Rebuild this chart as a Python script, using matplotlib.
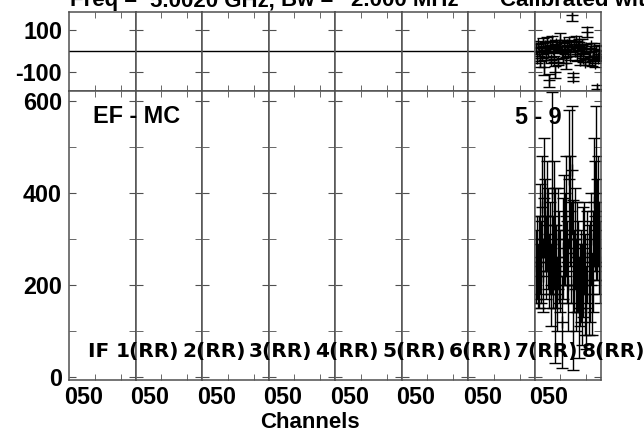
import matplotlib
matplotlib.use('Agg')
import matplotlib.pyplot as plt
import numpy as np

plt.rcParams['font.family'] = ['Liberation Sans', 'DejaVu Sans']
plt.rcParams['font.weight'] = 'bold'
plt.rcParams['axes.unicode_minus'] = False

# IF labels and channel tick labels
if_labels = ['1(RR)', '2(RR)', '3(RR)', '4(RR)', '5(RR)', '6(RR)', '7(RR)', '8(RR)']
chan_tick_label = ['050']
amp_ticks = [0, 200, 400, 600]
phase_ticks = [-100, 100]
title_parts = ['Freq =', '5.0020 GHz,', 'Bw =', '2.000 MHz', 'Calibrated with CL #  2']

# only IF 8 has data
channels = np.arange(1, 64)
phase = [15, -30, 35, 0, -45, 20, -15, 40, -75, 25, -25, 45, -5, -138, 30, -40, 50, 10, -35, -98,
         35, 20, -50, 25, 55, -10, -30, 40, 5, -55, 30, -5, 45, -20, 25, 171, -122, 35, 0, 50,
         -15, 25, 45, -40, 0, 30, -30, 10, -50, 15, 92, -35, -5, 25, -45, -20, 10, -55, 0, -178,
         -30, 5, -20]
phase_err = [20, 25, 15, 20, 30, 20, 15, 25, 35, 20, 15, 25, 20, 30, 20, 15, 25, 20, 15, 30,
             20, 25, 15, 20, 30, 20, 25, 15, 20, 30, 20, 15, 25, 20, 30, 25, 20, 15, 20, 25,
             30, 20, 15, 25, 20, 30, 20, 25, 15, 20, 25, 30, 20, 15, 25, 20, 30, 20, 25, 20,
             15, 25, 20]
amp = [240, 260, 220, 250, 300, 250, 370, 220, 390, 330, 260, 350, 300, 230, 280, 200, 400, 250, 330, 220,
       240, 180, 300, 260, 230, 120, 280, 320, 300, 350, 250, 200, 430, 360, 270, 450, 200, 230, 300, 200,
       260, 240, 150, 200, 220, 180, 250, 280, 200, 150, 260, 210, 230, 300, 180, 250, 380, 350, 400, 320,
       360, 280, 250]
amp_err = [80, 90, 70, 100, 120, 90, 110, 80, 130, 100, 90, 120, 110, 80, 100, 90, 220, 100, 140, 190,
           90, 80, 110, 100, 90, 100, 110, 120, 100, 130, 90, 100, 150, 120, 110, 140, 185, 90, 110, 100,
           120, 100, 110, 90, 100, 110, 120, 100, 110, 90, 100, 120, 110, 100, 90, 110, 140, 120, 190, 110,
           120, 100, 90]

W, H = 644, 434
fig = plt.figure(figsize=(6.44, 4.34), dpi=100)

def fx(px):
    return px / W

def fy(py):
    return 1 - py / H

left, right = 69, 601
pw = (right - left) / len(if_labels)
frame = '#505050'

for i in range(len(if_labels)):
    axp = fig.add_axes([fx(left + i * pw), fy(91), pw / W, (91 - 12.3) / H])
    axa = fig.add_axes([fx(left + i * pw), fy(379.5), pw / W, (379.5 - 91) / H])
    for ax in (axp, axa):
        ax.set_xlim(0, 64)
        for s in ax.spines.values():
            s.set_color(frame)
            s.set_linewidth(1.1)
        ax.set_xticks([14], chan_tick_label if (ax is axa) else [''])
        ax.set_xticks([25, 50], minor=True)
        ax.tick_params(axis='x', which='major', length=0, pad=5, labelsize=16.8)
        ax.tick_params(axis='x', which='minor', direction='in', top=True, bottom=True,
                       length=4, color=frame)
        ax.tick_params(axis='y', which='both', direction='in', left=True, right=True,
                       length=5, color=frame, labelsize=16.8, pad=5)
    axp.set_ylim(-188, 185)
    axp.set_yticks(phase_ticks)
    axp.axhline(0, color='black', lw=1)
    axa.set_ylim(-6, 622)
    axa.set_yticks(amp_ticks)
    axa.set_yticks([100, 300, 500], minor=True)
    if i > 0:
        axp.set_yticklabels([])
        axa.set_yticklabels([])
    if i == len(if_labels) - 1:
        axp.errorbar(channels, phase, yerr=phase_err, fmt='+', color='black', ms=8,
                     mew=1, elinewidth=1, capsize=4)
        axa.errorbar(channels, amp, yerr=amp_err, fmt='+', color='black', ms=8,
                     mew=1, elinewidth=1, capsize=4)
    fig.text(fx(left + i * pw + 47), fy(356.7), if_labels[i], fontsize=14.5,
             family='DejaVu Sans', ha='left', va='baseline')

fig.text(fx(left + 47), fy(356.7), 'IF ', fontsize=14.5, family='DejaVu Sans',
         ha='right', va='baseline')
fig.text(fx(93), fy(116.7), 'EF - MC', fontsize=16.8, ha='left', va='center')
fig.text(fx(562), fy(117), '5 - 9', fontsize=16.8, ha='right', va='center')
fig.text(fx(310), fy(422), 'Channels', fontsize=16, ha='center', va='center')

# title sits mostly above the top edge, as in the reference
for txt, px in zip(title_parts, [70, 150, 281, 351, 500]):
    fig.text(fx(px), fy(6), txt, fontsize=16, ha='left', va='baseline')

fig.savefig('out.png', dpi=100)
